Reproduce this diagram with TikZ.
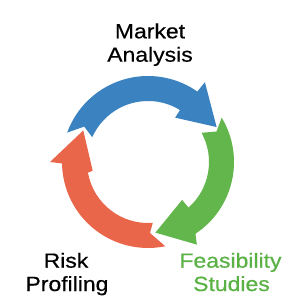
\documentclass[tikz,border=0pt]{standalone}
\usepackage{fontspec}
\setmainfont{Liberation Sans}[FakeStretch=1.12,FakeBold=0.5]
\definecolor{cblue}{RGB}{58,130,192}
\definecolor{cgreen}{RGB}{98,182,75}
\definecolor{cred}{RGB}{234,102,74}
\definecolor{tgreen}{RGB}{90,178,68}
\begin{document}
\begin{tikzpicture}[x=1pt,y=1pt,
  lbl/.style={anchor=base,inner sep=0pt,font=\fontsize{20.5}{23}\selectfont}]
\useasboundingbox (0,0) rectangle (300,300);
\fill[white] (0,0) rectangle (300,300);
\begin{scope}[shift={(148,138)}]
  % blue arrow (top)
  \fill[cblue] (160:86) arc[start angle=160,end angle=55,radius=86]
    -- (54.5:98) -- (27:77) -- (58.5:52) -- (58.4:61)
    arc[start angle=58.4,end angle=156,radius=61] -- (151:73) -- cycle;
  % green arrow (right)
  \fill[cgreen] (31:86) arc[start angle=31,end angle=-56.5,radius=86]
    -- (-59.4:96) -- (-84:71) -- (-48:51) -- (-48.4:61)
    arc[start angle=-48.4,end angle=28.6,radius=61] -- (24:75) -- cycle;
  % red arrow (left)
  \fill[cred] (281.6:86) arc[start angle=281.6,end angle=181,radius=86]
    -- (180:98) -- (154:72) -- (189:56) -- (190:61)
    arc[start angle=190,end angle=274.5,radius=61] -- (271.6:71) -- cycle;
\end{scope}
\node[lbl] (ma1) at (150,261.7) {Market};
\node[lbl] (ma2) at (150,238.3) {Analysis};
\node[lbl] (rp1) at (66,32.3) {Risk};
\node[lbl] (rp2) at (67,9) {Profiling};
\node[lbl,text=tgreen] (fs1) at (230.5,32.3) {Feasibility};
\node[lbl,text=tgreen] (fs2) at (231.5,9) {Studies};
\end{tikzpicture}
\end{document}
